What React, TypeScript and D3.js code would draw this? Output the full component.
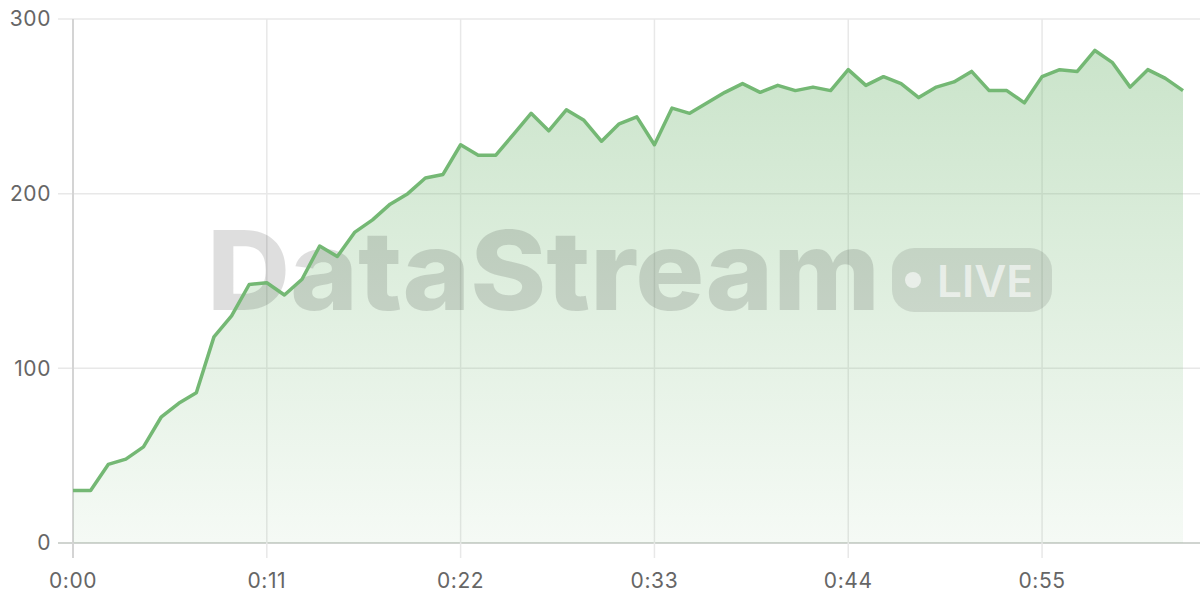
import React from "react";
import * as d3 from "d3";

// one sample per second, 0:00 .. 1:03
const seconds: number[] = d3.range(0, 64);
const values: number[] = [
  30, 30, 45, 48, 55, 72, 80, 86, 118, 130, 148, 149, 142, 151, 170, 164,
  178, 185, 194, 200, 209, 211, 228, 222, 222, 234, 246, 236, 248, 242, 230, 240,
  244, 228, 249, 246, 252, 258, 263, 258, 262, 259, 261, 259, 271, 262, 267, 263,
  255, 261, 264, 270, 259, 259, 252, 267, 271, 270, 282, 275, 261, 271, 266, 259,
];
const xTicks: number[] = [0, 11, 22, 33, 44, 55];
const yTicks: number[] = [0, 100, 200, 300];

const width = 1200;
const height = 600;
const margin = { top: 19, right: 17, bottom: 57, left: 73 };

const fmtTime = (s: number) => `${Math.floor(s / 60)}:${String(s % 60).padStart(2, "0")}`;

const App: React.FC = () => {
  const x = d3
    .scaleLinear()
    .domain([0, 63])
    .range([margin.left, width - margin.right]);
  const y = d3
    .scaleLinear()
    .domain([0, 300])
    .range([height - margin.bottom, margin.top]);

  const data = seconds.map((s, i) => ({ s, v: values[i] }));

  const line = d3
    .line<{ s: number; v: number }>()
    .x((d) => x(d.s))
    .y((d) => y(d.v));
  const area = d3
    .area<{ s: number; v: number }>()
    .x((d) => x(d.s))
    .y0(y(0))
    .y1((d) => y(d.v));

  const green = "#74b874";
  const font = "Inter, 'Liberation Sans', Arial, sans-serif";

  return (
    <svg
      width={width}
      height={height}
      style={{ position: "absolute", left: 0, top: 0, background: "#fff" }}
    >
      <defs>
        <linearGradient id="fillGrad" x1="0" y1="0" x2="0" y2="1">
          <stop offset="0%" stopColor={green} stopOpacity={0.38} />
          <stop offset="100%" stopColor={green} stopOpacity={0.07} />
        </linearGradient>
      </defs>

      {/* horizontal grid */}
      {yTicks.map((t) => (
        <g key={"y" + t}>
          <line
            x1={58}
            x2={width}
            y1={y(t)}
            y2={y(t)}
            stroke={t === 0 ? "#d0d4d0" : "#e8e8e8"}
            strokeWidth={t === 0 ? 2 : 1.5}
          />
          <text
            x={51}
            y={y(t)}
            dy="0.35em"
            textAnchor="end"
            fontFamily={font}
            fontSize={21}
            letterSpacing={0.6}
            fill="#666"
          >
            {t}
          </text>
        </g>
      ))}

      {/* vertical grid */}
      {xTicks.map((t) => (
        <g key={"x" + t}>
          <line
            x1={x(t)}
            x2={x(t)}
            y1={margin.top}
            y2={y(0) + 15}
            stroke={t === 0 ? "#d4d4d4" : "#e8e8e8"}
            strokeWidth={t === 0 ? 2 : 1.5}
          />
          <text
            x={x(t)}
            y={588}
            textAnchor="middle"
            fontFamily={font}
            fontSize={21}
            letterSpacing={0.6}
            fill="#666"
          >
            {fmtTime(t)}
          </text>
        </g>
      ))}

      <path d={area(data)!} fill="url(#fillGrad)" />

      {/* watermark */}
      <g>
        <text
          x={207}
          y={310}
          fontFamily={font}
          fontWeight={800}
          fontSize={110}
          textLength={673}
          lengthAdjust="spacingAndGlyphs"
          fill="#000"
          fillOpacity={0.13}
        >
          DataStream
        </text>
        <rect x={892} y={248} width={160} height={64} rx={22} fill="#000" fillOpacity={0.1} />
        <circle cx={913} cy={280} r={8} fill="#fff" fillOpacity={0.6} />
        <text
          x={937}
          y={297}
          fontFamily={font}
          fontWeight={600}
          fontSize={44}
          textLength={96}
          lengthAdjust="spacingAndGlyphs"
          fill="#fff"
          fillOpacity={0.6}
        >
          LIVE
        </text>
      </g>

      <path
        d={line(data)!}
        fill="none"
        stroke={green}
        strokeWidth={3.5}
        strokeLinejoin="round"
      />
    </svg>
  );
};

export default App;
